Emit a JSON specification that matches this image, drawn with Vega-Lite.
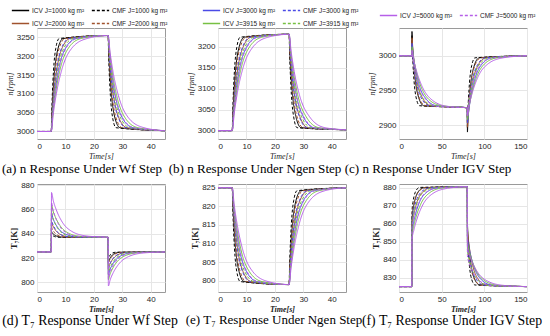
{
"$schema":"https://vega.github.io/schema/vega-lite/v6.json",
"padding":{"left":1,"top":0,"right":0,"bottom":0},
"config":{
 "view":{"stroke":"#9a9a9a","strokeWidth":1},
 "axis":{"labelFont":"Liberation Sans","labelFontSize":8,"labelColor":"#262626","ticks":false,"labelPadding":3,"grid":true,"gridColor":"#e6e6e6","domain":false,"titleFont":"Liberation Serif","titleFontSize":8,"titleFontStyle":"italic","titleFontWeight":"normal","titleColor":"#222","titlePadding":2},
 "title":{"font":"Liberation Serif","fontSize":13.1,"fontWeight":"normal","color":"#000","orient":"bottom","offset":3,"frame":"group","anchor":"middle"}
},
"datasets":{
"fast":[
{"s":"I1","t":0,"a":3000,"b":3000,"d":825,"e":825},
{"s":"I1","t":5,"a":3000,"b":3000,"d":825,"e":825},
{"s":"I1","t":5.1,"d":842},
{"s":"I1","t":5.24,"a":3046,"b":3041,"d":841.1,"e":820.3},
{"s":"I1","t":5.6,"a":3100,"b":3090,"d":840.1,"e":814.9},
{"s":"I1","t":6.2,"a":3161,"b":3145,"d":838.9,"e":808.6},
{"s":"I1","t":7.4,"a":3221,"b":3199,"d":837.7,"e":802.5},
{"s":"I1","t":9.2,"a":3247,"b":3223,"d":837.2,"e":799.8},
{"s":"I1","t":25,"a":3255,"b":3230,"d":837,"e":799},
{"s":"I1","t":25.1,"d":816},
{"s":"I1","t":25.24,"a":3209,"b":3189,"d":817.6,"e":803.7},
{"s":"I1","t":25.6,"a":3156,"b":3141,"d":819.5,"e":809.1},
{"s":"I1","t":26.2,"a":3096,"b":3086,"d":821.7,"e":815.4},
{"s":"I1","t":27.4,"a":3036,"b":3033,"d":823.8,"e":821.5},
{"s":"I1","t":29.2,"a":3010,"b":3007,"d":824.7,"e":824.2},
{"s":"I1","t":45,"a":3002,"b":3002,"d":825,"e":825},
{"s":"C1","t":0,"a":3000,"b":3000,"d":825,"e":825},
{"s":"C1","t":5,"a":3000,"b":3000,"d":825,"e":825},
{"s":"C1","t":5.1,"d":840},
{"s":"C1","t":5.16,"a":3046,"b":3041,"d":839.5,"e":820.3},
{"s":"C1","t":5.4,"a":3100,"b":3090,"d":838.8,"e":814.9},
{"s":"C1","t":5.8,"a":3161,"b":3145,"d":838.1,"e":808.6},
{"s":"C1","t":6.6,"a":3221,"b":3199,"d":837.4,"e":802.5},
{"s":"C1","t":7.8,"a":3247,"b":3223,"d":837.1,"e":799.8},
{"s":"C1","t":25,"a":3255,"b":3230,"d":837,"e":799},
{"s":"C1","t":25.1,"d":819},
{"s":"C1","t":25.16,"a":3209,"b":3189,"d":820.1,"e":803.7},
{"s":"C1","t":25.4,"a":3156,"b":3141,"d":821.3,"e":809.1},
{"s":"C1","t":25.8,"a":3096,"b":3086,"d":822.8,"e":815.4},
{"s":"C1","t":26.6,"a":3036,"b":3033,"d":824.2,"e":821.5},
{"s":"C1","t":27.8,"a":3010,"b":3007,"d":824.8,"e":824.2},
{"s":"C1","t":45,"a":3002,"b":3002,"d":825,"e":825},
{"s":"I2","t":0,"a":3000,"b":3000,"d":825,"e":825},
{"s":"I2","t":5,"a":3000,"b":3000,"d":825,"e":825},
{"s":"I2","t":5.1,"d":850},
{"s":"I2","t":5.38,"a":3046,"b":3041,"d":847.7,"e":820.3},
{"s":"I2","t":5.95,"a":3100,"b":3090,"d":844.9,"e":814.9},
{"s":"I2","t":6.9,"a":3161,"b":3145,"d":841.8,"e":808.6},
{"s":"I2","t":8.8,"a":3221,"b":3199,"d":838.8,"e":802.5},
{"s":"I2","t":11.65,"a":3247,"b":3223,"d":837.4,"e":799.8},
{"s":"I2","t":25,"a":3255,"b":3230,"d":837,"e":799},
{"s":"I2","t":25.1,"d":811},
{"s":"I2","t":25.38,"a":3209,"b":3189,"d":813.5,"e":803.7},
{"s":"I2","t":25.95,"a":3156,"b":3141,"d":816.5,"e":809.1},
{"s":"I2","t":26.9,"a":3096,"b":3086,"d":819.8,"e":815.4},
{"s":"I2","t":28.8,"a":3036,"b":3033,"d":823.1,"e":821.5},
{"s":"I2","t":31.65,"a":3010,"b":3007,"d":824.6,"e":824.2},
{"s":"I2","t":45,"a":3002,"b":3002,"d":825,"e":825},
{"s":"C2","t":0,"a":3000,"b":3000,"d":825,"e":825},
{"s":"C2","t":5,"a":3000,"b":3000,"d":825,"e":825},
{"s":"C2","t":5.1,"d":846},
{"s":"C2","t":5.28,"a":3046,"b":3041,"d":844.4,"e":820.3},
{"s":"C2","t":5.7,"a":3100,"b":3090,"d":842.5,"e":814.9},
{"s":"C2","t":6.4,"a":3161,"b":3145,"d":840.3,"e":808.6},
{"s":"C2","t":7.8,"a":3221,"b":3199,"d":838.2,"e":802.5},
{"s":"C2","t":9.9,"a":3247,"b":3223,"d":837.3,"e":799.8},
{"s":"C2","t":25,"a":3255,"b":3230,"d":837,"e":799},
{"s":"C2","t":25.1,"d":815},
{"s":"C2","t":25.28,"a":3209,"b":3189,"d":816.8,"e":803.7},
{"s":"C2","t":25.7,"a":3156,"b":3141,"d":818.9,"e":809.1},
{"s":"C2","t":26.4,"a":3096,"b":3086,"d":821.3,"e":815.4},
{"s":"C2","t":27.8,"a":3036,"b":3033,"d":823.7,"e":821.5},
{"s":"C2","t":29.9,"a":3010,"b":3007,"d":824.7,"e":824.2},
{"s":"C2","t":45,"a":3002,"b":3002,"d":825,"e":825},
{"s":"I3","t":0,"a":3000,"b":3000,"d":825,"e":825},
{"s":"I3","t":5,"a":3000,"b":3000,"d":825,"e":825},
{"s":"I3","t":5.1,"d":857},
{"s":"I3","t":5.5,"a":3046,"b":3041,"d":853.4,"e":820.3},
{"s":"I3","t":6.25,"a":3100,"b":3090,"d":849.2,"e":814.9},
{"s":"I3","t":7.5,"a":3161,"b":3145,"d":844.4,"e":808.6},
{"s":"I3","t":10,"a":3221,"b":3199,"d":839.7,"e":802.5},
{"s":"I3","t":13.75,"a":3247,"b":3223,"d":837.6,"e":799.8},
{"s":"I3","t":25,"a":3255,"b":3230,"d":837,"e":799},
{"s":"I3","t":25.1,"d":806},
{"s":"I3","t":25.5,"a":3209,"b":3189,"d":809.4,"e":803.7},
{"s":"I3","t":26.25,"a":3156,"b":3141,"d":813.4,"e":809.1},
{"s":"I3","t":27.5,"a":3096,"b":3086,"d":818,"e":815.4},
{"s":"I3","t":30,"a":3036,"b":3033,"d":822.4,"e":821.5},
{"s":"I3","t":33.75,"a":3010,"b":3007,"d":824.4,"e":824.2},
{"s":"I3","t":45,"a":3002,"b":3002,"d":825,"e":825},
{"s":"C3","t":0,"a":3000,"b":3000,"d":825,"e":825},
{"s":"C3","t":5,"a":3000,"b":3000,"d":825,"e":825},
{"s":"C3","t":5.1,"d":852},
{"s":"C3","t":5.36,"a":3046,"b":3041,"d":849.3,"e":820.3},
{"s":"C3","t":5.9,"a":3100,"b":3090,"d":846.2,"e":814.9},
{"s":"C3","t":6.8,"a":3161,"b":3145,"d":842.6,"e":808.6},
{"s":"C3","t":8.6,"a":3221,"b":3199,"d":839,"e":802.5},
{"s":"C3","t":11.3,"a":3247,"b":3223,"d":837.5,"e":799.8},
{"s":"C3","t":25,"a":3255,"b":3230,"d":837,"e":799},
{"s":"C3","t":25.1,"d":811},
{"s":"C3","t":25.36,"a":3209,"b":3189,"d":813.5,"e":803.7},
{"s":"C3","t":25.9,"a":3156,"b":3141,"d":816.5,"e":809.1},
{"s":"C3","t":26.8,"a":3096,"b":3086,"d":819.8,"e":815.4},
{"s":"C3","t":28.6,"a":3036,"b":3033,"d":823.1,"e":821.5},
{"s":"C3","t":31.3,"a":3010,"b":3007,"d":824.6,"e":824.2},
{"s":"C3","t":45,"a":3002,"b":3002,"d":825,"e":825},
{"s":"I4","t":0,"a":3000,"b":3000,"d":825,"e":825},
{"s":"I4","t":5,"a":3000,"b":3000,"d":825,"e":825},
{"s":"I4","t":5.1,"d":864},
{"s":"I4","t":5.6,"a":3046,"b":3041,"d":859.1,"e":820.3},
{"s":"I4","t":6.5,"a":3100,"b":3090,"d":853.5,"e":814.9},
{"s":"I4","t":8,"a":3161,"b":3145,"d":847,"e":808.6},
{"s":"I4","t":11,"a":3221,"b":3199,"d":840.6,"e":802.5},
{"s":"I4","t":15.5,"a":3247,"b":3223,"d":837.8,"e":799.8},
{"s":"I4","t":25,"a":3255,"b":3230,"d":837,"e":799},
{"s":"I4","t":25.1,"d":802},
{"s":"I4","t":25.6,"a":3209,"b":3189,"d":806.1,"e":803.7},
{"s":"I4","t":26.5,"a":3156,"b":3141,"d":811,"e":809.1},
{"s":"I4","t":28,"a":3096,"b":3086,"d":816.5,"e":815.4},
{"s":"I4","t":31,"a":3036,"b":3033,"d":821.9,"e":821.5},
{"s":"I4","t":35.5,"a":3010,"b":3007,"d":824.3,"e":824.2},
{"s":"I4","t":45,"a":3002,"b":3002,"d":825,"e":825},
{"s":"C4","t":0,"a":3000,"b":3000,"d":825,"e":825},
{"s":"C4","t":5,"a":3000,"b":3000,"d":825,"e":825},
{"s":"C4","t":5.1,"d":858},
{"s":"C4","t":5.44,"a":3046,"b":3041,"d":854.2,"e":820.3},
{"s":"C4","t":6.1,"a":3100,"b":3090,"d":849.8,"e":814.9},
{"s":"C4","t":7.2,"a":3161,"b":3145,"d":844.8,"e":808.6},
{"s":"C4","t":9.4,"a":3221,"b":3199,"d":839.8,"e":802.5},
{"s":"C4","t":12.7,"a":3247,"b":3223,"d":837.6,"e":799.8},
{"s":"C4","t":25,"a":3255,"b":3230,"d":837,"e":799},
{"s":"C4","t":25.1,"d":807},
{"s":"C4","t":25.44,"a":3209,"b":3189,"d":810.2,"e":803.7},
{"s":"C4","t":26.1,"a":3156,"b":3141,"d":814,"e":809.1},
{"s":"C4","t":27.2,"a":3096,"b":3086,"d":818.3,"e":815.4},
{"s":"C4","t":29.4,"a":3036,"b":3033,"d":822.6,"e":821.5},
{"s":"C4","t":32.7,"a":3010,"b":3007,"d":824.5,"e":824.2},
{"s":"C4","t":45,"a":3002,"b":3002,"d":825,"e":825},
{"s":"I5","t":0,"a":3000,"b":3000,"d":825,"e":825},
{"s":"I5","t":5,"a":3000,"b":3000,"d":825,"e":825},
{"s":"I5","t":5.1,"d":874},
{"s":"I5","t":5.72,"a":3046,"b":3041,"d":867.3,"e":820.3},
{"s":"I5","t":6.8,"a":3100,"b":3090,"d":859.6,"e":814.9},
{"s":"I5","t":8.6,"a":3161,"b":3145,"d":850.7,"e":808.6},
{"s":"I5","t":12.2,"a":3221,"b":3199,"d":842,"e":802.5},
{"s":"I5","t":17.6,"a":3247,"b":3223,"d":838.1,"e":799.8},
{"s":"I5","t":25,"a":3255,"b":3230,"d":837,"e":799},
{"s":"I5","t":25.1,"d":797},
{"s":"I5","t":25.72,"a":3209,"b":3189,"d":802,"e":803.7},
{"s":"I5","t":26.8,"a":3156,"b":3141,"d":807.9,"e":809.1},
{"s":"I5","t":28.6,"a":3096,"b":3086,"d":814.6,"e":815.4},
{"s":"I5","t":32.2,"a":3036,"b":3033,"d":821.2,"e":821.5},
{"s":"I5","t":37.6,"a":3010,"b":3007,"d":824.2,"e":824.2},
{"s":"I5","t":45,"a":3002,"b":3002,"d":825,"e":825},
{"s":"C5","t":0,"a":3000,"b":3000,"d":825,"e":825},
{"s":"C5","t":5,"a":3000,"b":3000,"d":825,"e":825},
{"s":"C5","t":5.1,"d":866},
{"s":"C5","t":5.52,"a":3046,"b":3041,"d":860.8,"e":820.3},
{"s":"C5","t":6.3,"a":3100,"b":3090,"d":854.7,"e":814.9},
{"s":"C5","t":7.6,"a":3161,"b":3145,"d":847.7,"e":808.6},
{"s":"C5","t":10.2,"a":3221,"b":3199,"d":840.9,"e":802.5},
{"s":"C5","t":14.1,"a":3247,"b":3223,"d":837.9,"e":799.8},
{"s":"C5","t":25,"a":3255,"b":3230,"d":837,"e":799},
{"s":"C5","t":25.1,"d":803},
{"s":"C5","t":25.52,"a":3209,"b":3189,"d":807,"e":803.7},
{"s":"C5","t":26.3,"a":3156,"b":3141,"d":811.6,"e":809.1},
{"s":"C5","t":27.6,"a":3096,"b":3086,"d":816.9,"e":815.4},
{"s":"C5","t":30.2,"a":3036,"b":3033,"d":822,"e":821.5},
{"s":"C5","t":34.1,"a":3010,"b":3007,"d":824.3,"e":824.2},
{"s":"C5","t":45,"a":3002,"b":3002,"d":825,"e":825}
],
"slow":[
{"s":"I1","t":0,"c":3000,"f":825},
{"s":"I1","t":15,"c":3000,"f":825},
{"s":"I1","t":15.2,"c":3035,"f":862},
{"s":"I1","t":15.8,"c":3015,"f":865.3},
{"s":"I1","t":17,"c":2992,"f":869.2},
{"s":"I1","t":19,"c":2966,"f":873.7},
{"s":"I1","t":23,"c":2940,"f":878},
{"s":"I1","t":29,"c":2928,"f":879.9},
{"s":"I1","t":80,"c":2925,"f":880.5},
{"s":"I1","t":80.2,"c":2890,"f":861},
{"s":"I1","t":80.8,"c":2910,"f":854.5},
{"s":"I1","t":82,"c":2933,"f":847},
{"s":"I1","t":84,"c":2959,"f":838.3},
{"s":"I1","t":88,"c":2985,"f":829.9},
{"s":"I1","t":94,"c":2997,"f":826.1},
{"s":"I1","t":150,"c":3000,"f":825},
{"s":"C1","t":0,"c":3000,"f":825},
{"s":"C1","t":15,"c":3000,"f":825},
{"s":"C1","t":15.2,"c":3030,"f":866},
{"s":"C1","t":15.5,"c":3011,"f":868.6},
{"s":"C1","t":16.3,"c":2989,"f":871.7},
{"s":"C1","t":17.6,"c":2964,"f":875.1},
{"s":"C1","t":20.2,"c":2939,"f":878.5},
{"s":"C1","t":24.1,"c":2928,"f":880.1},
{"s":"C1","t":80,"c":2925,"f":880.5},
{"s":"C1","t":80.2,"c":2895,"f":855},
{"s":"C1","t":80.5,"c":2914,"f":849.6},
{"s":"C1","t":81.3,"c":2936,"f":843.3},
{"s":"C1","t":82.6,"c":2961,"f":836.1},
{"s":"C1","t":85.2,"c":2986,"f":829},
{"s":"C1","t":89.1,"c":2997,"f":825.9},
{"s":"C1","t":150,"c":3000,"f":825},
{"s":"I2","t":0,"c":3000,"f":825},
{"s":"I2","t":15,"c":3000,"f":825},
{"s":"I2","t":15.2,"c":3026,"f":858},
{"s":"I2","t":16.3,"c":3008,"f":862},
{"s":"I2","t":18.2,"c":2987,"f":866.8},
{"s":"I2","t":21.3,"c":2962,"f":872.2},
{"s":"I2","t":27.6,"c":2939,"f":877.5},
{"s":"I2","t":37,"c":2928,"f":879.8},
{"s":"I2","t":80,"c":2925,"f":880.5},
{"s":"I2","t":80.2,"c":2897,"f":857},
{"s":"I2","t":81.3,"c":2916,"f":851.2},
{"s":"I2","t":83.2,"c":2937,"f":844.5},
{"s":"I2","t":86.3,"c":2962,"f":836.8},
{"s":"I2","t":92.6,"c":2986,"f":829.3},
{"s":"I2","t":102,"c":2997,"f":826},
{"s":"I2","t":150,"c":3000,"f":825},
{"s":"C2","t":0,"c":3000,"f":825},
{"s":"C2","t":15,"c":3000,"f":825},
{"s":"C2","t":15.2,"c":3022,"f":864},
{"s":"C2","t":15.9,"c":3005,"f":867},
{"s":"C2","t":17.3,"c":2984,"f":870.4},
{"s":"C2","t":19.6,"c":2961,"f":874.4},
{"s":"C2","t":24.2,"c":2938,"f":878.3},
{"s":"C2","t":31.1,"c":2928,"f":880},
{"s":"C2","t":80,"c":2925,"f":880.5},
{"s":"C2","t":80.2,"c":2901,"f":851},
{"s":"C2","t":80.9,"c":2919,"f":846.3},
{"s":"C2","t":82.3,"c":2940,"f":840.9},
{"s":"C2","t":84.6,"c":2963,"f":834.6},
{"s":"C2","t":89.2,"c":2987,"f":828.5},
{"s":"C2","t":96.1,"c":2997,"f":825.8},
{"s":"C2","t":150,"c":3000,"f":825},
{"s":"I3","t":0,"c":3000,"f":825},
{"s":"I3","t":15,"c":3000,"f":825},
{"s":"I3","t":15.2,"c":3018,"f":855},
{"s":"I3","t":16.7,"c":3001,"f":859.6},
{"s":"I3","t":19.2,"c":2982,"f":864.9},
{"s":"I3","t":23.3,"c":2959,"f":871.1},
{"s":"I3","t":31.6,"c":2938,"f":877.1},
{"s":"I3","t":44,"c":2928,"f":879.7},
{"s":"I3","t":80,"c":2925,"f":880.5},
{"s":"I3","t":80.2,"c":2903,"f":853},
{"s":"I3","t":81.7,"c":2920,"f":848},
{"s":"I3","t":84.2,"c":2941,"f":842.1},
{"s":"I3","t":88.3,"c":2964,"f":835.4},
{"s":"I3","t":96.6,"c":2987,"f":828.8},
{"s":"I3","t":109,"c":2997,"f":825.8},
{"s":"I3","t":150,"c":3000,"f":825},
{"s":"C3","t":0,"c":3000,"f":825},
{"s":"C3","t":15,"c":3000,"f":825},
{"s":"C3","t":15.2,"c":3015,"f":862},
{"s":"C3","t":16.2,"c":2999,"f":865.3},
{"s":"C3","t":18,"c":2980,"f":869.2},
{"s":"C3","t":21,"c":2958,"f":873.7},
{"s":"C3","t":27,"c":2937,"f":878},
{"s":"C3","t":36,"c":2928,"f":879.9},
{"s":"C3","t":80,"c":2925,"f":880.5},
{"s":"C3","t":80.2,"c":2906,"f":848},
{"s":"C3","t":81.2,"c":2923,"f":843.9},
{"s":"C3","t":83,"c":2943,"f":839},
{"s":"C3","t":86,"c":2965,"f":833.5},
{"s":"C3","t":92,"c":2987,"f":828.1},
{"s":"C3","t":101,"c":2997,"f":825.7},
{"s":"C3","t":150,"c":3000,"f":825},
{"s":"I4","t":0,"c":3000,"f":825},
{"s":"I4","t":15,"c":3000,"f":825},
{"s":"I4","t":15.2,"c":3013,"f":853},
{"s":"I4","t":17,"c":2997,"f":857.9},
{"s":"I4","t":20,"c":2979,"f":863.7},
{"s":"I4","t":25,"c":2958,"f":870.3},
{"s":"I4","t":35,"c":2937,"f":876.8},
{"s":"I4","t":50,"c":2928,"f":879.7},
{"s":"I4","t":80,"c":2925,"f":880.5},
{"s":"I4","t":80.2,"c":2908,"f":850},
{"s":"I4","t":82,"c":2925,"f":845.5},
{"s":"I4","t":85,"c":2944,"f":840.3},
{"s":"I4","t":90,"c":2966,"f":834.3},
{"s":"I4","t":100,"c":2988,"f":828.4},
{"s":"I4","t":115,"c":2997,"f":825.8},
{"s":"I4","t":150,"c":3000,"f":825},
{"s":"C4","t":0,"c":3000,"f":825},
{"s":"C4","t":15,"c":3000,"f":825},
{"s":"C4","t":15.2,"c":3010,"f":860},
{"s":"C4","t":16.5,"c":2995,"f":863.7},
{"s":"C4","t":18.7,"c":2977,"f":868},
{"s":"C4","t":22.3,"c":2956,"f":872.9},
{"s":"C4","t":29.6,"c":2936,"f":877.7},
{"s":"C4","t":40.6,"c":2928,"f":879.9},
{"s":"C4","t":80,"c":2925,"f":880.5},
{"s":"C4","t":80.2,"c":2911,"f":845},
{"s":"C4","t":81.5,"c":2927,"f":841.4},
{"s":"C4","t":83.7,"c":2946,"f":837.2},
{"s":"C4","t":87.3,"c":2967,"f":832.4},
{"s":"C4","t":94.6,"c":2988,"f":827.7},
{"s":"C4","t":105.6,"c":2997,"f":825.6},
{"s":"C4","t":150,"c":3000,"f":825},
{"s":"I5","t":0,"c":3000,"f":825},
{"s":"I5","t":15,"c":3000,"f":825},
{"s":"I5","t":15.2,"c":3008,"f":851},
{"s":"I5","t":17.4,"c":2993,"f":856.3},
{"s":"I5","t":21,"c":2976,"f":862.5},
{"s":"I5","t":27,"c":2956,"f":869.6},
{"s":"I5","t":39,"c":2936,"f":876.5},
{"s":"I5","t":57,"c":2927,"f":879.6},
{"s":"I5","t":80,"c":2925,"f":880.5},
{"s":"I5","t":80.2,"c":2913,"f":847},
{"s":"I5","t":82.4,"c":2929,"f":843},
{"s":"I5","t":86,"c":2947,"f":838.4},
{"s":"I5","t":92,"c":2968,"f":833.1},
{"s":"I5","t":104,"c":2988,"f":828},
{"s":"I5","t":122,"c":2997,"f":825.7},
{"s":"I5","t":150,"c":3000,"f":825},
{"s":"C5","t":0,"c":3000,"f":825},
{"s":"C5","t":15,"c":3000,"f":825},
{"s":"C5","t":15.2,"c":3006,"f":858},
{"s":"C5","t":16.7,"c":2991,"f":862},
{"s":"C5","t":19.3,"c":2974,"f":866.8},
{"s":"C5","t":23.6,"c":2955,"f":872.2},
{"s":"C5","t":32.2,"c":2936,"f":877.5},
{"s":"C5","t":45,"c":2927,"f":879.8},
{"s":"C5","t":80,"c":2925,"f":880.5},
{"s":"C5","t":80.2,"c":2915,"f":842},
{"s":"C5","t":81.7,"c":2930,"f":838.9},
{"s":"C5","t":84.3,"c":2948,"f":835.4},
{"s":"C5","t":88.6,"c":2969,"f":831.3},
{"s":"C5","t":97.2,"c":2989,"f":827.3},
{"s":"C5","t":110,"c":2997,"f":825.5},
{"s":"C5","t":150,"c":3000,"f":825}
]
},
"columns":3,
"bounds":"flush",
"spacing":{"row":45,"column":53},
"resolve":{"scale":{"color":"independent","strokeDash":"independent"},"legend":{"color":"independent","strokeDash":"independent"}},
"concat":[
{"width":128,"height":111,"data":{"name":"fast"},"transform":[{"filter":"isValid(datum.a)"}],
 "mark":{"type":"line","strokeWidth":1,"interpolate":"monotone","clip":true},
 "title":{"text":"(a) n Response Under Wf Step","dx":-19},
 "encoding":{
  "x":{"field":"t","type":"quantitative","scale":{"domain":[0,45]},"axis":{"values":[0,10,20,30,40],"title":"Time[s]"}},
  "y":{"field":"a","type":"quantitative","scale":{"domain":[2980,3275]},"axis":{"values":[3000,3050,3100,3150,3200,3250],"format":"d","title":"n[rpm]"}},
  "color":{"field":"s","type":"nominal","scale":{"domain":["I1","C1","I2","C2","I3","C3","I4","C4","I5","C5"],"range":["#000000","#000000","#A0522D","#A0522D","#4B4BE6","#4B4BE6","#77C043","#77C043","#B65FE8","#B65FE8"]},"legend":{"values":["I1","C1","I2","C2"],"orient":"none","legendX":-26,"legendY":-27,"direction":"horizontal","columns":2,"symbolType":"stroke","symbolSize":300,"symbolStrokeWidth":1.3,"labelFontSize":6.5,"labelFont":"Liberation Sans","labelColor":"#222","labelOffset":2,"columnPadding":4,"rowPadding":-7,"title":null,"labelExpr":"(slice(datum.label,0,1)=='I'?'ICV':'CMF')+' J='+(slice(datum.label,1,2)=='1'?'1000':slice(datum.label,1,2)=='2'?'2000':slice(datum.label,1,2)=='3'?'3000':slice(datum.label,1,2)=='4'?'3915':'5000')+' kg m²'"}},
  "strokeDash":{"field":"s","type":"nominal","scale":{"domain":["I1","C1","I2","C2","I3","C3","I4","C4","I5","C5"],"range":[[1,0],[3,2],[1,0],[3,2],[1,0],[3,2],[1,0],[3,2],[1,0],[3,2]]},"legend":{"values":["I1","C1","I2","C2"],"orient":"none","legendX":-26,"legendY":-27,"direction":"horizontal","columns":2,"symbolType":"stroke","symbolSize":300,"symbolStrokeWidth":1.3,"labelFontSize":6.5,"labelFont":"Liberation Sans","labelColor":"#222","labelOffset":2,"columnPadding":4,"rowPadding":-7,"title":null,"labelExpr":"(slice(datum.label,0,1)=='I'?'ICV':'CMF')+' J='+(slice(datum.label,1,2)=='1'?'1000':slice(datum.label,1,2)=='2'?'2000':slice(datum.label,1,2)=='3'?'3000':slice(datum.label,1,2)=='4'?'3915':'5000')+' kg m²'"}}
 }},
{"width":128,"height":111,"data":{"name":"fast"},"transform":[{"filter":"isValid(datum.b)"}],
 "mark":{"type":"line","strokeWidth":1,"interpolate":"monotone","clip":true},
 "title":{"text":"(b) n Response Under Ngen Step","dx":-27},
 "encoding":{
  "x":{"field":"t","type":"quantitative","scale":{"domain":[0,45]},"axis":{"values":[0,10,20,30,40],"title":"Time[s]"}},
  "y":{"field":"b","type":"quantitative","scale":{"domain":[2980,3245]},"axis":{"values":[3000,3050,3100,3150,3200],"format":"d","title":"n[rpm]"}},
  "color":{"field":"s","type":"nominal","scale":{"domain":["I1","C1","I2","C2","I3","C3","I4","C4","I5","C5"],"range":["#000000","#000000","#A0522D","#A0522D","#4B4BE6","#4B4BE6","#77C043","#77C043","#B65FE8","#B65FE8"]},"legend":{"values":["I3","C3","I4","C4"],"orient":"none","legendX":-16,"legendY":-27,"direction":"horizontal","columns":2,"symbolType":"stroke","symbolSize":300,"symbolStrokeWidth":1.3,"labelFontSize":6.5,"labelFont":"Liberation Sans","labelColor":"#222","labelOffset":2,"columnPadding":4,"rowPadding":-7,"title":null,"labelExpr":"(slice(datum.label,0,1)=='I'?'ICV':'CMF')+' J='+(slice(datum.label,1,2)=='1'?'1000':slice(datum.label,1,2)=='2'?'2000':slice(datum.label,1,2)=='3'?'3000':slice(datum.label,1,2)=='4'?'3915':'5000')+' kg m²'"}},
  "strokeDash":{"field":"s","type":"nominal","scale":{"domain":["I1","C1","I2","C2","I3","C3","I4","C4","I5","C5"],"range":[[1,0],[3,2],[1,0],[3,2],[1,0],[3,2],[1,0],[3,2],[1,0],[3,2]]},"legend":{"values":["I3","C3","I4","C4"],"orient":"none","legendX":-16,"legendY":-27,"direction":"horizontal","columns":2,"symbolType":"stroke","symbolSize":300,"symbolStrokeWidth":1.3,"labelFontSize":6.5,"labelFont":"Liberation Sans","labelColor":"#222","labelOffset":2,"columnPadding":4,"rowPadding":-7,"title":null,"labelExpr":"(slice(datum.label,0,1)=='I'?'ICV':'CMF')+' J='+(slice(datum.label,1,2)=='1'?'1000':slice(datum.label,1,2)=='2'?'2000':slice(datum.label,1,2)=='3'?'3000':slice(datum.label,1,2)=='4'?'3915':'5000')+' kg m²'"}}
 }},
{"width":128,"height":111,"data":{"name":"slow"},"transform":[{"filter":"isValid(datum.c)"}],
 "mark":{"type":"line","strokeWidth":1,"interpolate":"monotone","clip":true},
 "title":{"text":"(c) n Response Under IGV Step","dx":-35},
 "encoding":{
  "x":{"field":"t","type":"quantitative","scale":{"domain":[0,150]},"axis":{"values":[0,50,100,150],"title":"Time[s]"}},
  "y":{"field":"c","type":"quantitative","scale":{"domain":[2880,3040]},"axis":{"values":[2900,2950,3000],"format":"d","title":"n[rpm]"}},
  "color":{"field":"s","type":"nominal","scale":{"domain":["I1","C1","I2","C2","I3","C3","I4","C4","I5","C5"],"range":["#000000","#000000","#A0522D","#A0522D","#4B4BE6","#4B4BE6","#77C043","#77C043","#B65FE8","#B65FE8"]},"legend":{"values":["I5","C5"],"orient":"none","legendX":-20,"legendY":-22,"direction":"horizontal","columns":2,"symbolType":"stroke","symbolSize":300,"symbolStrokeWidth":1.3,"labelFontSize":6.5,"labelFont":"Liberation Sans","labelColor":"#222","labelOffset":2,"columnPadding":4,"rowPadding":-7,"title":null,"labelExpr":"(slice(datum.label,0,1)=='I'?'ICV':'CMF')+' J='+(slice(datum.label,1,2)=='1'?'1000':slice(datum.label,1,2)=='2'?'2000':slice(datum.label,1,2)=='3'?'3000':slice(datum.label,1,2)=='4'?'3915':'5000')+' kg m²'"}},
  "strokeDash":{"field":"s","type":"nominal","scale":{"domain":["I1","C1","I2","C2","I3","C3","I4","C4","I5","C5"],"range":[[1,0],[3,2],[1,0],[3,2],[1,0],[3,2],[1,0],[3,2],[1,0],[3,2]]},"legend":{"values":["I5","C5"],"orient":"none","legendX":-20,"legendY":-22,"direction":"horizontal","columns":2,"symbolType":"stroke","symbolSize":300,"symbolStrokeWidth":1.3,"labelFontSize":6.5,"labelFont":"Liberation Sans","labelColor":"#222","labelOffset":2,"columnPadding":4,"rowPadding":-7,"title":null,"labelExpr":"(slice(datum.label,0,1)=='I'?'ICV':'CMF')+' J='+(slice(datum.label,1,2)=='1'?'1000':slice(datum.label,1,2)=='2'?'2000':slice(datum.label,1,2)=='3'?'3000':slice(datum.label,1,2)=='4'?'3915':'5000')+' kg m²'"}}
 }},
{"width":128,"height":108,"data":{"name":"fast"},"transform":[{"filter":"isValid(datum.d)"}],
 "mark":{"type":"line","strokeWidth":1,"interpolate":"monotone","clip":true},
 "title":{"text":"(d) T₇ Response Under Wf Step","dx":-11,"fontSize":13.8,"offset":1},
 "encoding":{
  "x":{"field":"t","type":"quantitative","scale":{"domain":[0,45]},"axis":{"values":[0,10,20,30,40],"title":"Time[s]","titleFontWeight":"bold"}},
  "y":{"field":"d","type":"quantitative","scale":{"domain":[792,881]},"axis":{"values":[800,820,840,860,880],"title":"T₇[K]","titleFontWeight":"bold","titleFontStyle":"normal","titleFontSize":9}},
  "color":{"field":"s","type":"nominal","scale":{"domain":["I1","C1","I2","C2","I3","C3","I4","C4","I5","C5"],"range":["#000000","#000000","#A0522D","#A0522D","#4B4BE6","#4B4BE6","#77C043","#77C043","#B65FE8","#B65FE8"]},"legend":null},
  "strokeDash":{"field":"s","type":"nominal","scale":{"domain":["I1","C1","I2","C2","I3","C3","I4","C4","I5","C5"],"range":[[1,0],[3,2],[1,0],[3,2],[1,0],[3,2],[1,0],[3,2],[1,0],[3,2]]},"legend":null}
 }},
{"width":128,"height":108,"data":{"name":"fast"},"transform":[{"filter":"isValid(datum.e)"}],
 "mark":{"type":"line","strokeWidth":1,"interpolate":"monotone","clip":true},
 "title":{"text":"(e) T₇ Response Under Ngen Step","dx":-8,"fontSize":13,"offset":1},
 "encoding":{
  "x":{"field":"t","type":"quantitative","scale":{"domain":[0,45]},"axis":{"values":[0,10,20,30,40],"title":"Time[s]","titleFontWeight":"bold"}},
  "y":{"field":"e","type":"quantitative","scale":{"domain":[797,826]},"axis":{"values":[800,805,810,815,820,825],"title":"T₇[K]","titleFontWeight":"bold","titleFontStyle":"normal","titleFontSize":9}},
  "color":{"field":"s","type":"nominal","scale":{"domain":["I1","C1","I2","C2","I3","C3","I4","C4","I5","C5"],"range":["#000000","#000000","#A0522D","#A0522D","#4B4BE6","#4B4BE6","#77C043","#77C043","#B65FE8","#B65FE8"]},"legend":null},
  "strokeDash":{"field":"s","type":"nominal","scale":{"domain":["I1","C1","I2","C2","I3","C3","I4","C4","I5","C5"],"range":[[1,0],[3,2],[1,0],[3,2],[1,0],[3,2],[1,0],[3,2],[1,0],[3,2]]},"legend":null}
 }},
{"width":128,"height":108,"data":{"name":"slow"},"transform":[{"filter":"isValid(datum.f)"}],
 "mark":{"type":"line","strokeWidth":1,"interpolate":"monotone","clip":true},
 "title":{"text":"(f) T₇ Response Under IGV Step","dx":-11,"fontSize":13.8,"offset":1},
 "encoding":{
  "x":{"field":"t","type":"quantitative","scale":{"domain":[0,150]},"axis":{"values":[0,50,100,150],"title":"Time[s]","titleFontWeight":"bold"}},
  "y":{"field":"f","type":"quantitative","scale":{"domain":[822,882]},"axis":{"values":[830,840,850,860,870,880],"title":"T₇[K]","titleFontWeight":"bold","titleFontStyle":"normal","titleFontSize":9}},
  "color":{"field":"s","type":"nominal","scale":{"domain":["I1","C1","I2","C2","I3","C3","I4","C4","I5","C5"],"range":["#000000","#000000","#A0522D","#A0522D","#4B4BE6","#4B4BE6","#77C043","#77C043","#B65FE8","#B65FE8"]},"legend":null},
  "strokeDash":{"field":"s","type":"nominal","scale":{"domain":["I1","C1","I2","C2","I3","C3","I4","C4","I5","C5"],"range":[[1,0],[3,2],[1,0],[3,2],[1,0],[3,2],[1,0],[3,2],[1,0],[3,2]]},"legend":null}
 }}
]
}
